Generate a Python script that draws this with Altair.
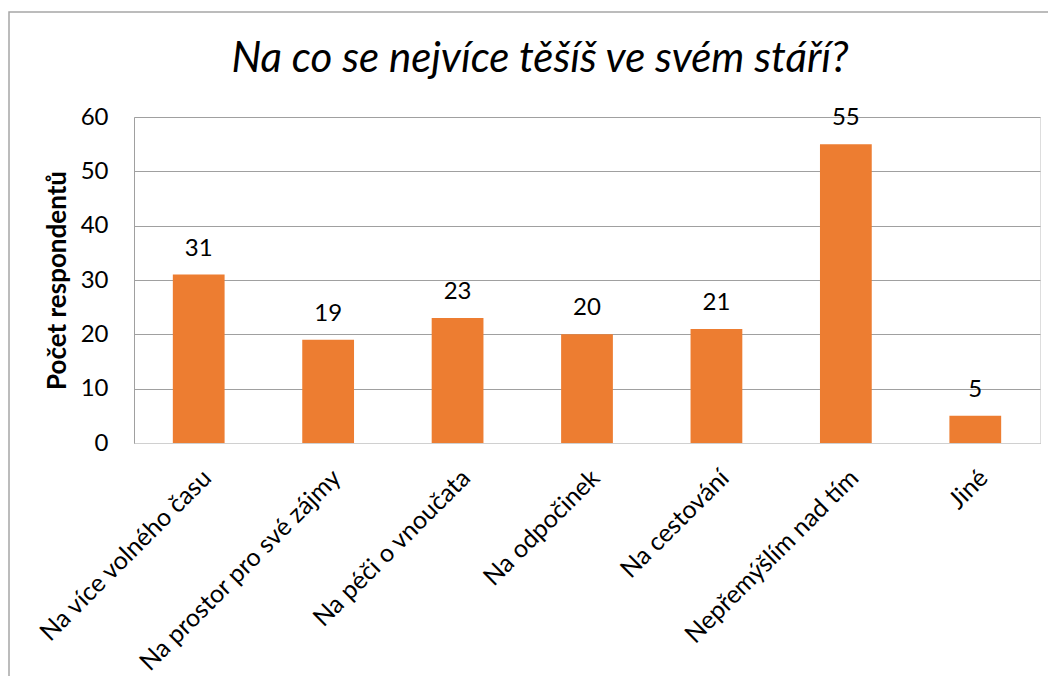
import altair as alt
import pandas as pd

categories = ["Na více volného času", "Na prostor pro své zájmy", "Na péči o vnoučata",
              "Na odpočinek", "Na cestování", "Nepřemýšlím nad tím", "Jiné"]
values = [31, 19, 23, 20, 21, 55, 5]

df = pd.DataFrame({"kategorie": categories, "pocet": values})

FONT = "Lato"

x = alt.X("kategorie:N", sort=categories, title=None,
          scale=alt.Scale(paddingInner=0.6, paddingOuter=0.3),
          axis=alt.Axis(labelAngle=-45, labelFontSize=25, labelFont=FONT, labelColor="#000000",
                        ticks=False, domainColor="#d0d0d0", labelPadding=22, labelLimit=400))
y = alt.Y("pocet:Q", title="Počet respondentů",
          scale=alt.Scale(domain=[0, 60]),
          axis=alt.Axis(values=[0, 10, 20, 30, 40, 50, 60], labelFontSize=24, labelFont=FONT,
                        labelColor="#000000", ticks=False, labelPadding=26,
                        domainColor="#a0a0a0", gridColor="#a0a0a0", grid=True,
                        titleFont=FONT, titleFontSize=26, titleFontWeight="bold",
                        titleColor="#000000", titlePadding=10))

bars = alt.Chart(df).mark_bar(color="#ED7D31").encode(x=x, y=y)
labels = alt.Chart(df).mark_text(baseline="bottom", dy=-14, fontSize=24, font=FONT,
                                 color="#000000").encode(
    x=alt.X("kategorie:N", sort=categories),
    y="pocet:Q", text="pocet:Q")

frame = alt.Chart(pd.DataFrame({"a": [0]})).mark_rect(
    fill=None, stroke="#a6a6a6", strokeWidth=1.5, clip=False).encode(
    x=alt.value(-125), x2=alt.value(916), y=alt.value(-105), y2=alt.value(620))

chart = alt.layer(frame, bars, labels).properties(
    width=906, height=326,
    autosize=alt.AutoSizeParams(type="none"),
    padding={"left": 126, "top": 109, "right": 8, "bottom": 233},
    title=alt.TitleParams("Na co se nejvíce těšíš ve svém stáří?", font=FONT, fontSize=42,
                          fontStyle="italic", fontWeight="normal", color="#000000",
                          anchor="middle", dx=-47, offset=-70)
).configure_view(stroke=None).configure(background="white")

chart.save("out.html", embed_options={"renderer": "svg", "actions": False})
